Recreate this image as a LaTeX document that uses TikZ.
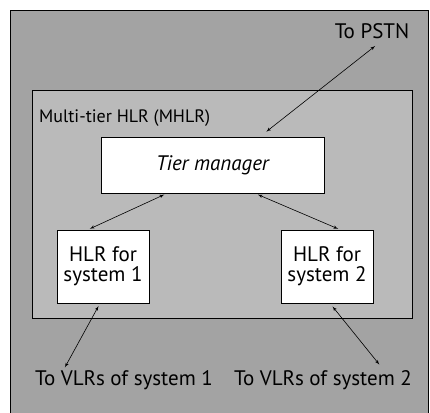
\documentclass[tikz,border=0pt]{standalone}
\usepackage{fontspec}
\setmainfont{PT Sans}
\usetikzlibrary{positioning,arrows}

\begin{document}
\begin{tikzpicture}[x=1pt,y=-1pt,font=\fontsize{21}{20}\selectfont]
	\tikzstyle{box}=[draw=black,line width=0.7pt,fill=white,inner sep=0pt]
	\tikzstyle{hlr}=[box,minimum width=92pt,minimum height=73pt,align=center]
	\tikzstyle{annot}=[inner sep=1pt]
	\tikzstyle{edge}=[<->,>=latex',line width=0.6pt]

	\useasboundingbox (0,0) rectangle (430,412);
	% grey frames
	\node[draw=black,line width=0.7pt,fill=black!36,minimum width=418pt,minimum height=406pt,inner sep=0pt] (frame) at (219,213) {};
	\node[draw=black,line width=0.7pt,fill=black!27,minimum width=380pt,minimum height=228pt,inner sep=0pt] (mhlr) at (222,204) {};
	\node[annot,anchor=west,font=\fontsize{18}{20}\selectfont] (mhlrlabel) at (38,118) {Multi-tier HLR (MHLR)};

	\node[box,minimum width=223pt,minimum height=56pt] (tm) at (212.5,165) {\itshape Tier manager};
	\node[hlr] (sysA) at (103,266.5) {HLR for\\system 1};
	\node[hlr] (sysB) at (327,266.5) {HLR for\\system 2};

	\node[annot] (pstn) at (372,31) {To PSTN};
	\node[annot] (vlrA) at (124,380) {To VLRs of system 1};
	\node[annot] (vlrB) at (323,380) {To VLRs of system 2};

	\draw[edge,shorten <=8pt,shorten >=10pt] ([xshift=47.5pt]tm.north) -- ([xshift=11pt]pstn.south);
	\draw[edge,shorten <=3pt,shorten >=2pt] ([xshift=-45.5pt]tm.south) -- ([xshift=-15pt]sysA.north);
	\draw[edge,shorten <=3pt,shorten >=2pt] ([xshift=42.5pt]tm.south) -- ([xshift=13pt]sysB.north);
	\draw[edge,shorten <=3pt,shorten >=2pt] ([xshift=-3pt]sysA.south) -- ([xshift=30pt]vlrA.north west);
	\draw[edge,shorten <=4pt,shorten >=6pt] ([xshift=3pt]sysB.south) -- ([xshift=-30pt]vlrB.north east);
\end{tikzpicture}
\end{document}
